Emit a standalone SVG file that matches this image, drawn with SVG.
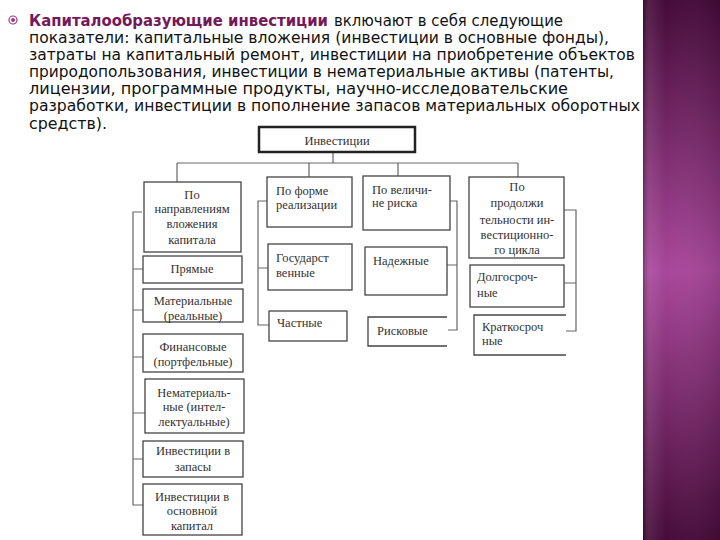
<svg xmlns="http://www.w3.org/2000/svg" width="720" height="540" viewBox="0 0 720 540">
<defs>
<linearGradient id="band" x1="0" y1="0" x2="0" y2="1">
<stop offset="0" stop-color="#440a38"/>
<stop offset="0.5" stop-color="#a8479a"/>
<stop offset="1" stop-color="#460b39"/>
</linearGradient>
<linearGradient id="bandh" x1="0" y1="0" x2="1" y2="0">
<stop offset="0" stop-color="#000" stop-opacity="0.25"/>
<stop offset="0.1" stop-color="#fff" stop-opacity="0.08"/>
<stop offset="0.3" stop-color="#fff" stop-opacity="0"/>
<stop offset="1" stop-color="#000" stop-opacity="0.1"/>
</linearGradient>
<style>
.p{font-family:"DejaVu Sans","Noto Sans",sans-serif;font-size:15px;fill:#111}
.h{fill:#74195a;font-weight:600}
.t{font-family:"Liberation Serif","DejaVu Serif",serif;font-size:12.5px;fill:#333}
.c{text-anchor:middle}
.b{fill:#fff;stroke:#444;stroke-width:1.3}
.o{fill:none;stroke:#444;stroke-width:1.3}
.l{fill:none;stroke:#666;stroke-width:1.2}
</style>
</defs>
<rect width="720" height="540" fill="#fff"/>
<rect x="643" y="0" width="77" height="540" fill="url(#band)"/>
<rect x="643" y="0" width="77" height="540" fill="url(#bandh)"/>

<g id="header">
<circle cx="13" cy="20" r="4" fill="none" stroke="#9b3a84" stroke-width="1.2"/>
<circle cx="13" cy="20" r="2" fill="#9b3a84"/>
<text class="p h" x="29" y="26" textLength="299" lengthAdjust="spacingAndGlyphs">Капиталообразующие инвестиции</text>
<text class="p" x="334" y="26" textLength="229" lengthAdjust="spacingAndGlyphs">включают в себя следующие</text>
<text class="p" x="29" y="43" textLength="580" lengthAdjust="spacingAndGlyphs">показатели: капитальные вложения (инвестиции в основные фонды),</text>
<text class="p" x="29" y="60" textLength="606" lengthAdjust="spacingAndGlyphs">затраты на капитальный ремонт, инвестиции на приобретение объектов</text>
<text class="p" x="29" y="77" textLength="585" lengthAdjust="spacingAndGlyphs">природопользования, инвестиции в нематериальные активы (патенты,</text>
<text class="p" x="29" y="94" textLength="539" lengthAdjust="spacingAndGlyphs">лицензии, программные продукты, научно-исследовательские</text>
<text class="p" x="29" y="111" textLength="611" lengthAdjust="spacingAndGlyphs">разработки, инвестиции в пополнение запасов материальных оборотных</text>
<text class="p" x="29" y="129" textLength="78" lengthAdjust="spacingAndGlyphs">средств).</text>
</g>

<g id="connectors">
<path class="l" d="M333 152V163M177 163H518M177 163V182M309 163V177M398 163V176M518 163V177"/>
<path class="l" d="M142 212H133V505H143M133 269H143M133 310H143M133 357H143M133 413H145M133 459H143"/>
<path class="l" d="M267 201H258V325H269M258 268H268"/>
<path class="l" d="M450 201H457V330H448M447 265H457"/>
<path class="l" d="M564 210H576V331H566M564 283H576"/>
</g>

<g id="n-invest">
<rect x="259" y="127" width="156" height="25" fill="#fff" stroke="#222" stroke-width="2.5"/>
<text class="t c" x="337" y="145">Инвестиции</text>
</g>

<g id="n-direction">
<rect class="b" x="144" y="182" width="97" height="70"/>
<text class="t c" x="192" y="199">По</text>
<text class="t c" x="192" y="213">направлениям</text>
<text class="t c" x="192" y="228">вложения</text>
<text class="t c" x="192" y="244">капитала</text>
</g>
<g id="n-direct">
<rect class="b" x="143" y="256" width="99" height="27"/>
<text class="t c" x="192" y="273">Прямые</text>
</g>
<g id="n-material">
<rect class="b" x="143" y="289" width="100" height="33"/>
<text class="t c" x="193" y="305">Материальные</text>
<text class="t c" x="193" y="320">(реальные)</text>
</g>
<g id="n-financial">
<rect class="b" x="143" y="334" width="100" height="38"/>
<text class="t c" x="193" y="351">Финансовые</text>
<text class="t c" x="193" y="366">(портфельные)</text>
</g>
<g id="n-intangible">
<rect class="b" x="145" y="379" width="99" height="54"/>
<text class="t c" x="194" y="397">Нематериаль-</text>
<text class="t c" x="194" y="411">ные (интел-</text>
<text class="t c" x="194" y="426">лектуальные)</text>
</g>
<g id="n-stocks">
<rect class="b" x="143" y="441" width="100" height="36"/>
<text class="t c" x="193" y="455">Инвестиции в</text>
<text class="t c" x="193" y="471">запасы</text>
</g>
<g id="n-capital">
<rect class="b" x="143" y="484" width="99" height="51"/>
<text class="t c" x="192" y="501">Инвестиции в</text>
<text class="t c" x="192" y="515">основной</text>
<text class="t c" x="192" y="530">капитал</text>
</g>

<g id="n-form">
<rect class="b" x="267" y="177" width="85" height="50"/>
<text class="t" x="276" y="195">По форме</text>
<text class="t" x="276" y="209">реализации</text>
</g>
<g id="n-state">
<rect class="b" x="268" y="244" width="84" height="46"/>
<text class="t" x="276" y="262">Государст</text>
<text class="t" x="276" y="277">венные</text>
</g>
<g id="n-private">
<rect class="b" x="269" y="311" width="78" height="30"/>
<text class="t" x="277" y="327">Частные</text>
</g>

<g id="n-risk">
<rect class="b" x="363" y="176" width="87" height="54"/>
<text class="t" x="372" y="194">По величи-</text>
<text class="t" x="372" y="207">не риска</text>
</g>
<g id="n-reliable">
<rect class="b" x="365" y="247" width="82" height="48"/>
<text class="t" x="373" y="265">Надежные</text>
</g>
<g id="n-risky">
<path class="o" d="M447 317H368V346H447"/>
<text class="t" x="377" y="335">Рисковые</text>
</g>

<g id="n-duration">
<rect class="b" x="469" y="177" width="95" height="81"/>
<text class="t c" x="517" y="191">По</text>
<text class="t c" x="517" y="207">продолжи</text>
<text class="t c" x="517" y="224">тельности ин-</text>
<text class="t c" x="517" y="239">вестиционно-</text>
<text class="t c" x="517" y="254">го цикла</text>
</g>
<g id="n-long">
<rect class="b" x="470" y="265" width="94" height="42"/>
<text class="t" x="477" y="281">Долгосроч-</text>
<text class="t" x="477" y="297">ные</text>
</g>
<g id="n-short">
<path class="o" d="M566 315H474V355H566"/>
<text class="t" x="482" y="331">Краткосроч</text>
<text class="t" x="482" y="345">ные</text>
</g>
</svg>
